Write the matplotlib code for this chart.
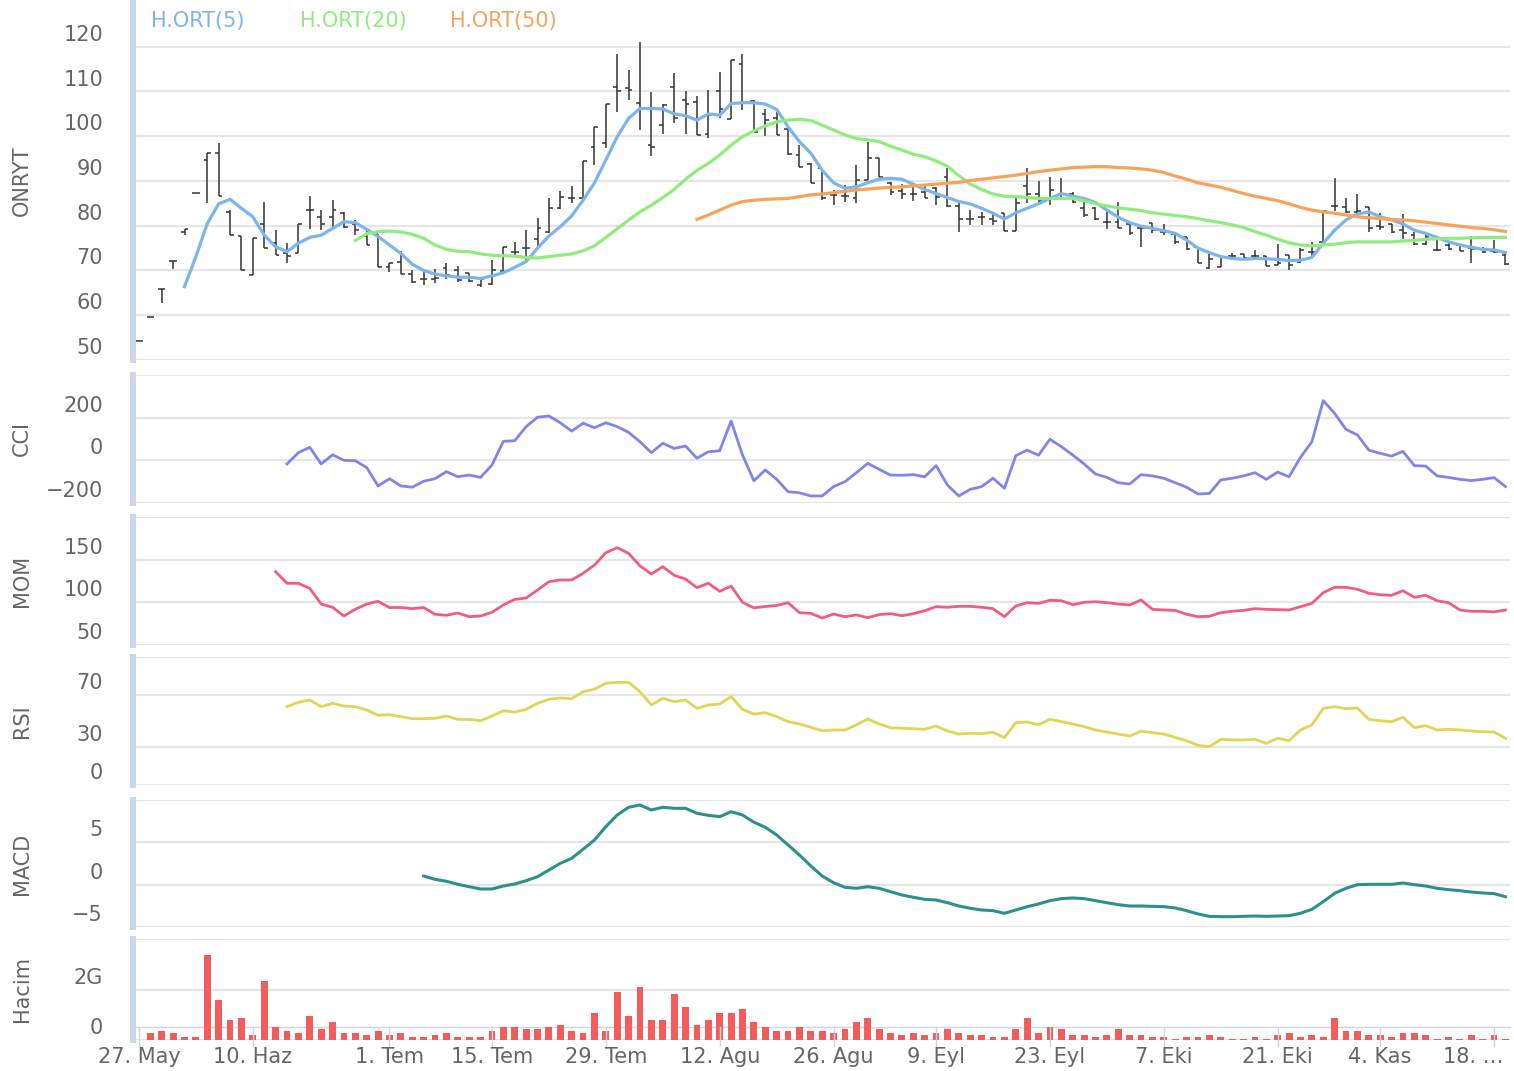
import numpy as np
import matplotlib.pyplot as plt
from matplotlib import transforms

# ---- data (trading-day index 0..120) ----
opens = [54.3, 59.7, 65.9, 72.2, 78.5, 87.4, 94.7, 96.3, 83.1, 77.6,
         69.0, 80.5, 76.1, 74.0, 74.0, 83.5, 82.0, 82.0, 82.9, 80.5,
         77.6, 78.2, 70.7, 72.0, 69.2, 68.0, 68.2, 70.5, 70.1, 69.5,
         66.8, 67.0, 69.9, 74.2, 75.0, 77.0, 78.7, 84.0, 86.1, 86.1,
         97.7, 98.6, 111.1, 110.7, 107.5, 98.0, 102.6, 111.1, 108.0, 107.7,
         100.6, 110.0, 103.8, 116.1, 107.9, 105.0, 104.0, 101.7, 95.8, 93.9,
         92.8, 86.9, 86.7, 86.1, 90.2, 95.1, 89.5, 87.8, 87.0, 87.5,
         88.4, 91.0, 84.5, 81.6, 82.0, 81.6, 82.9, 78.8, 88.9, 87.2,
         86.2, 87.2, 87.2, 83.9, 84.0, 80.9, 80.9, 80.5, 79.6, 80.7,
         78.6, 78.2, 77.4, 75.3, 70.5, 70.7, 73.2, 73.7, 73.2, 73.2,
         71.2, 73.5, 72.0, 74.2, 76.3, 84.4, 84.3, 83.1, 84.3, 80.0,
         80.5, 79.0, 78.0, 76.0, 74.5, 75.8, 75.7, 75.0, 74.7, 74.3,
         73.5]
highs = [54.3, 59.7, 65.9, 72.2, 79.3, 87.4, 96.3, 98.6, 83.5, 77.6,
         77.2, 85.2, 79.0, 76.2, 80.3, 86.6, 83.5, 85.8, 83.1, 81.3,
         79.2, 78.2, 71.6, 74.4, 70.2, 70.0, 70.3, 71.7, 70.9, 69.5,
         68.3, 72.3, 75.3, 76.4, 79.0, 81.7, 86.1, 87.8, 88.9, 94.5,
         102.1, 107.2, 118.4, 114.8, 121.0, 109.8, 107.2, 114.2, 110.0, 109.0,
         110.3, 114.3, 117.0, 118.4, 108.1, 106.2, 105.5, 101.8, 98.0, 94.1,
         92.8, 88.0, 89.0, 93.6, 98.8, 95.1, 89.8, 89.3, 89.3, 88.9,
         88.7, 93.0, 85.4, 83.5, 83.1, 82.8, 82.9, 86.5, 92.8, 90.1,
         91.0, 90.6, 87.5, 85.4, 84.3, 83.1, 85.2, 80.9, 79.8, 80.7,
         80.4, 78.2, 77.4, 75.3, 74.2, 73.1, 74.0, 73.7, 74.6, 73.2,
         75.9, 73.5, 75.0, 76.4, 83.4, 90.6, 86.1, 87.0, 84.3, 82.9,
         80.5, 82.6, 78.7, 78.5, 76.8, 76.4, 75.7, 77.6, 75.3, 76.8,
         73.8]
lows = [54.3, 59.7, 62.7, 70.3, 78.0, 87.4, 85.0, 86.6, 77.9, 70.1,
        69.0, 75.0, 73.5, 71.6, 74.0, 79.2, 79.0, 79.8, 79.4, 77.9,
        75.7, 70.8, 69.7, 69.2, 67.2, 66.8, 67.1, 68.0, 67.5, 67.5,
        66.3, 66.8, 69.7, 73.1, 72.3, 74.9, 78.3, 83.7, 85.0, 86.1,
        93.6, 97.3, 105.5, 108.1, 101.5, 95.6, 100.6, 102.9, 100.6, 100.3,
        99.5, 104.0, 103.8, 105.9, 101.0, 100.0, 100.2, 95.8, 93.2, 89.6,
        85.7, 84.6, 85.4, 85.0, 90.2, 91.0, 86.9, 85.9, 85.6, 86.1,
        84.6, 84.3, 78.7, 80.2, 80.2, 80.2, 78.8, 78.8, 85.0, 85.2,
        84.6, 86.1, 85.0, 81.9, 81.3, 79.2, 79.4, 78.0, 75.2, 78.4,
        78.0, 76.0, 74.6, 71.6, 70.3, 70.7, 72.3, 72.4, 72.4, 70.9,
        71.2, 70.0, 71.7, 72.9, 76.0, 83.2, 82.8, 82.8, 78.7, 79.0,
        78.4, 77.0, 75.7, 75.7, 74.4, 74.6, 74.4, 71.6, 74.0, 74.0,
        71.2]
closes = [54.3, 59.7, 65.9, 72.2, 79.3, 87.4, 96.3, 86.6, 77.9, 70.1,
          77.2, 75.0, 73.5, 73.2, 80.3, 83.5, 80.5, 83.5, 79.8, 79.0,
          75.7, 70.8, 71.6, 69.2, 67.5, 68.2, 68.4, 69.0, 67.8, 67.6,
          68.2, 70.0, 75.3, 74.2, 75.0, 79.4, 83.9, 86.5, 86.1, 94.5,
          102.1, 107.2, 110.0, 110.3, 106.0, 97.5, 107.0, 104.0, 107.2, 100.3,
          104.7, 106.1, 117.0, 107.5, 101.0, 103.6, 100.2, 96.0, 93.2, 89.6,
          86.1, 86.9, 86.7, 90.2, 95.1, 91.0, 87.6, 87.2, 87.0, 86.3,
          86.5, 84.4, 81.6, 81.6, 82.0, 81.0, 78.8, 85.0, 87.2, 85.6,
          88.0, 87.2, 85.2, 82.4, 81.6, 80.9, 79.4, 78.3, 79.4, 79.0,
          78.6, 76.3, 74.9, 71.7, 72.5, 73.1, 73.2, 72.8, 73.2, 70.9,
          71.6, 71.3, 74.5, 74.2, 83.3, 84.4, 83.0, 83.4, 79.4, 79.8,
          78.7, 78.4, 75.9, 77.5, 74.6, 74.9, 74.4, 74.9, 74.2, 74.2,
          71.4]

ma5_start = 4
ma5 = [66.4, 73.1, 80.5, 84.9, 85.9, 83.9, 82.0, 77.9, 75.3, 74.2,
       76.1, 77.4, 77.9, 79.4, 80.9, 80.7, 79.2, 77.6, 75.7, 73.8,
       71.4, 70.0, 69.2, 68.8, 68.5, 68.5, 68.2, 68.8, 69.5, 70.7,
       72.0, 75.0, 77.7, 79.8, 82.2, 85.7, 89.6, 94.7, 99.9, 104.0,
       106.2, 106.2, 106.1, 105.0, 104.6, 103.6, 105.0, 104.7, 107.3, 107.5,
       107.5, 107.2, 106.0, 102.1, 98.8, 96.2, 92.4, 89.6, 88.4, 88.7,
       89.6, 90.4, 90.6, 90.4, 89.3, 88.1, 87.2, 86.3, 85.4, 84.9,
       83.9, 82.8, 81.5, 82.9, 83.9, 84.9, 86.1, 87.2, 86.6, 86.1,
       85.2, 83.5, 81.9, 80.7, 79.9, 79.4, 78.9, 78.3, 76.8, 75.0,
       74.0, 73.1, 72.7, 72.5, 72.7, 72.6, 72.5, 72.2, 72.3, 72.9,
       76.1, 79.0, 81.3, 82.6, 83.1, 82.0, 81.3, 80.4, 79.0, 78.3,
       77.4, 76.4, 75.7, 75.2, 74.7, 74.6, 74.0]
ma20_start = 19
ma20 = [76.7, 78.2, 78.7, 78.8, 78.6, 78.1, 77.2, 75.7, 74.7, 74.3,
        74.2, 73.7, 73.4, 73.3, 73.2, 72.9, 72.8, 73.1, 73.4, 73.7,
        74.4, 75.5, 77.4, 79.3, 81.3, 83.1, 84.6, 86.3, 88.1, 90.4,
        92.4, 93.9, 95.8, 98.0, 99.9, 101.2, 102.3, 103.2, 103.6, 103.8,
        103.5, 102.5, 101.4, 100.3, 99.5, 99.2, 98.8, 97.8, 96.9, 96.0,
        95.4, 94.5, 93.3, 91.2, 89.3, 88.1, 87.1, 86.6, 86.5, 86.3,
        86.1, 86.1, 86.1, 86.1, 85.6, 84.9, 84.4, 84.0, 83.7, 83.4,
        82.9, 82.6, 82.3, 82.0, 81.6, 81.1, 80.7, 80.2, 79.6, 78.7,
        77.9, 77.0, 76.2, 75.7, 75.5, 75.7, 75.9, 76.2, 76.4, 76.4,
        76.4, 76.4, 76.6, 76.7, 77.0, 77.1, 77.2, 77.2, 77.3, 77.4,
        77.4, 77.4]
ma50_start = 49
ma50 = [81.4, 82.4, 83.5, 84.6, 85.4, 85.7, 85.9, 86.0, 86.1, 86.5,
        86.9, 87.1, 87.4, 87.7, 88.0, 88.2, 88.4, 88.6, 88.7, 88.9,
        89.1, 89.3, 89.5, 89.7, 90.1, 90.4, 90.7, 91.0, 91.3, 91.7,
        92.1, 92.4, 92.7, 93.0, 93.1, 93.2, 93.2, 93.0, 92.9, 92.7,
        92.4, 91.9, 91.1, 90.4, 89.6, 89.1, 88.6, 87.9, 87.2, 86.6,
        86.1, 85.6, 84.9, 84.1, 83.5, 83.1, 82.8, 82.4, 82.0, 81.8,
        81.6, 81.4, 81.3, 81.1, 80.8, 80.5, 80.2, 79.9, 79.6, 79.4,
        79.1, 78.7]

cci_start = 13
cci = [-17, 36, 61, -17, 26, 0, -2, -34, -120, -86,
       -120, -126, -98, -86, -53, -77, -69, -80, -22, 89,
       92, 158, 202, 208, 176, 137, 174, 153, 176, 158,
       131, 87, 36, 80, 56, 67, 10, 40, 45, 184,
       25, -96, -45, -89, -147, -152, -167, -167, -123, -100,
       -58, -14, -42, -69, -70, -67, -77, -25, -116, -167,
       -136, -123, -84, -131, 22, 48, 24, 99, 64, 25,
       -17, -64, -80, -105, -111, -67, -73, -84, -105, -126,
       -158, -155, -92, -84, -73, -58, -89, -55, -77, 14,
       87, 280, 220, 145, 119, 48, 33, 20, 42, -25,
       -27, -73, -80, -89, -95, -89, -81, -123]
mom_start = 12
mom = [135.9, 122.3, 122.3, 116.4, 98.0, 94.2, 84.0, 91.8, 98.0, 101.2,
       93.9, 93.9, 92.6, 93.9, 86.0, 84.8, 87.5, 83.2, 84.0, 88.3,
       96.9, 103.5, 105.1, 114.4, 124.2, 126.2, 126.2, 134.0, 143.7, 158.2,
       164.0, 157.4, 142.6, 133.2, 141.8, 131.7, 127.3, 117.2, 122.3, 112.9,
       119.1, 100.0, 93.5, 95.1, 96.3, 99.6, 87.9, 87.1, 81.6, 86.3,
       83.2, 85.2, 82.0, 85.6, 86.7, 84.3, 86.7, 90.2, 94.9, 94.2,
       95.3, 95.3, 94.2, 92.6, 83.2, 95.7, 99.6, 98.8, 102.4, 101.9,
       97.2, 100.0, 100.7, 99.6, 98.0, 96.9, 102.7, 91.8, 91.0, 90.6,
       86.0, 83.2, 83.6, 87.9, 89.5, 90.6, 92.6, 91.8, 91.4, 91.0,
       94.9, 98.8, 111.3, 117.6, 117.6, 115.3, 110.6, 108.9, 108.2, 113.6,
       105.9, 108.2, 101.9, 99.6, 91.0, 89.5, 89.5, 88.7, 91.0]
rsi_start = 13
rsi = [61.2, 64.6, 66.4, 61.2, 63.8, 61.7, 61.2, 58.6, 54.5, 54.9,
       53.4, 51.8, 51.8, 52.1, 53.9, 51.3, 51.3, 50.2, 53.9, 58.0,
       57.0, 59.1, 63.8, 67.0, 68.0, 67.4, 72.9, 74.8, 79.5, 80.2,
       80.2, 72.9, 62.5, 67.7, 65.1, 66.4, 59.9, 62.5, 63.3, 69.0,
       59.1, 55.4, 56.5, 53.4, 49.5, 47.7, 45.1, 42.4, 43.0, 43.0,
       46.9, 51.6, 47.7, 44.8, 44.3, 44.0, 43.5, 46.1, 42.2, 39.8,
       40.4, 40.1, 41.2, 37.0, 48.7, 49.2, 47.1, 51.3, 49.5, 47.7,
       45.6, 43.0, 41.4, 39.8, 38.3, 42.0, 40.9, 39.8, 37.2, 34.6,
       31.0, 29.9, 35.7, 35.2, 35.2, 35.7, 32.6, 36.5, 34.6, 43.0,
       46.9, 59.9, 61.2, 59.6, 60.2, 51.3, 50.2, 49.5, 52.9, 44.8,
       46.3, 43.0, 43.5, 43.0, 42.2, 41.6, 41.4, 36.5]
macd_start = 25
macd = [1.02, 0.63, 0.40, 0.04, -0.24, -0.51, -0.51, -0.16, 0.08, 0.47,
        0.94, 1.73, 2.52, 3.11, 4.18, 5.28, 6.85, 8.23, 9.14, 9.41,
        8.82, 9.14, 9.02, 9.02, 8.43, 8.19, 8.03, 8.62, 8.23, 7.38,
        6.78, 5.87, 4.69, 3.50, 2.21, 1.02, 0.23, -0.31, -0.43, -0.24,
        -0.43, -0.83, -1.22, -1.49, -1.73, -1.81, -2.13, -2.52, -2.79, -2.99,
        -3.07, -3.38, -2.99, -2.60, -2.28, -1.89, -1.65, -1.57, -1.65, -1.89,
        -2.13, -2.36, -2.52, -2.52, -2.56, -2.60, -2.75, -3.07, -3.46, -3.74,
        -3.78, -3.78, -3.74, -3.70, -3.74, -3.70, -3.66, -3.38, -2.91, -2.01,
        -1.02, -0.43, 0.00, 0.04, 0.04, 0.04, 0.20, 0.00, -0.16, -0.43,
        -0.59, -0.71, -0.87, -0.98, -1.06, -1.42]
# volume in billions (G)
volume = [0.0, 0.26, 0.34, 0.26, 0.10, 0.10, 3.35, 1.60, 0.81, 0.89,
          0.18, 2.32, 0.50, 0.34, 0.26, 0.97, 0.42, 0.73, 0.26, 0.26,
          0.18, 0.34, 0.18, 0.26, 0.10, 0.10, 0.18, 0.26, 0.10, 0.10,
          0.10, 0.34, 0.50, 0.50, 0.42, 0.42, 0.50, 0.58, 0.34, 0.26,
          1.05, 0.34, 1.92, 0.97, 2.08, 0.81, 0.81, 1.84, 1.29, 0.58,
          0.81, 1.05, 1.05, 1.21, 0.73, 0.50, 0.34, 0.34, 0.50, 0.34,
          0.34, 0.26, 0.42, 0.73, 0.89, 0.42, 0.26, 0.18, 0.26, 0.18,
          0.26, 0.42, 0.26, 0.18, 0.18, 0.10, 0.10, 0.42, 0.89, 0.26,
          0.50, 0.42, 0.18, 0.18, 0.10, 0.18, 0.42, 0.18, 0.18, 0.10,
          0.10, 0.02, 0.10, 0.10, 0.18, 0.10, 0.02, 0.02, 0.10, 0.02,
          0.18, 0.26, 0.10, 0.18, 0.10, 0.89, 0.34, 0.34, 0.18, 0.18,
          0.10, 0.26, 0.26, 0.18, 0.02, 0.10, 0.02, 0.18, 0.02, 0.18,
          0.05]

tick_idx = [0, 10, 22, 31, 41, 51, 61, 70, 80, 90, 100, 109, 119]
tick_labels = ['27. May', '10. Haz', '1. Tem', '15. Tem', '29. Tem', '12. Agu',
               '26. Agu', '9. Eyl', '23. Eyl', '7. Eki', '21. Eki', '4. Kas', '18. …']

# ---- layout ----
W, H = 1514, 1071
plt.rcParams['font.family'] = ['DejaVu Sans']
fig = plt.figure(figsize=(W / 100, H / 100), dpi=100)
TXT = '#666666'
GRID = '#e6e6e6'
AXBAR = '#ccd6eb'
FS = 15
XL, XR = 136, 1510


def make_panel(top, bottom, ylim, grid_vals, labels, title):
    ax = fig.add_axes([XL / W, 1 - bottom / H, (XR - XL) / W, (bottom - top) / H])
    ax.set_xlim(-0.26, 120.4)
    ax.set_ylim(*ylim)
    ax.set_yticks(grid_vals)
    ax.set_xticks([])
    ax.grid(axis='y', color=GRID, lw=1.5)
    ax.set_axisbelow(True)
    ax.tick_params(left=False, labelleft=False, bottom=False, labelbottom=False)
    for s in ['top', 'right', 'bottom']:
        ax.spines[s].set_visible(False)
    ax.spines['left'].set_color(AXBAR)
    ax.spines['left'].set_linewidth(4.3)
    ax.spines['left'].set_position(('outward', 2.2))
    for v, lab in labels:
        ax.annotate(lab, xy=(0, v), xycoords=('axes fraction', 'data'),
                    xytext=(-33, 12), textcoords='offset pixels',
                    ha='right', va='center', fontsize=FS, color=TXT)
    fig.text(22 / W, 1 - ((top + bottom) / 2) / H, title, rotation=90,
             ha='center', va='center', fontsize=FS, color=TXT)
    return ax


idx = np.arange(len(closes))

# price panel
ax1 = make_panel(2, 360, (50, 130), list(range(50, 121, 10)),
                 [(v, str(v)) for v in range(50, 121, 10)], 'ONRYT')
ax1.vlines(idx, lows, highs, color='#333333', lw=1.1, zorder=2)
ax1.hlines(opens, idx - 0.33, idx, color='#333333', lw=1.1, zorder=2)
ax1.hlines(closes, idx, idx + 0.33, color='#333333', lw=1.1, zorder=2)
ax1.plot(np.arange(ma5_start, ma5_start + len(ma5)), ma5, color='#7cb5ec', lw=2.3,
         zorder=3, solid_joinstyle='round')
ax1.plot(np.arange(ma20_start, ma20_start + len(ma20)), ma20, color='#90ed7d', lw=2.3,
         zorder=3, solid_joinstyle='round')
ax1.plot(np.arange(ma50_start, ma50_start + len(ma50)), ma50, color='#f7a35c', lw=2.3,
         zorder=3, solid_joinstyle='round')

for xpx, lab, col in [(151, 'H.ORT(5)', '#7cb5ec'), (300, 'H.ORT(20)', '#90ed7d'),
                      (450, 'H.ORT(50)', '#f7a35c')]:
    fig.text(xpx / W, 1 - 21 / H, lab, color=col, fontsize=FS, ha='left', va='center')

# CCI
ax2 = make_panel(375, 503, (-200, 400), [-200, 0, 200, 400],
                 [(-200, '−200'), (0, '0'), (200, '200')], 'CCI')
ax2.plot(np.arange(cci_start, cci_start + len(cci)), cci, color='#8085e9', lw=2,
         solid_joinstyle='round')

# MOM
ax3 = make_panel(517, 645, (50, 200), [50, 100, 150, 200],
                 [(50, '50'), (100, '100'), (150, '150')], 'MOM')
ax3.plot(np.arange(mom_start, mom_start + len(mom)), mom, color='#f15c80', lw=2,
         solid_joinstyle='round')

# RSI
ax4 = make_panel(657, 785, (0, 100), [0, 30, 70, 100],
                 [(0, '0'), (30, '30'), (70, '70')], 'RSI')
ax4.plot(np.arange(rsi_start, rsi_start + len(rsi)), rsi, color='#e4d354', lw=2,
         solid_joinstyle='round')

# MACD
ax5 = make_panel(800, 927, (-5, 10), [-5, 0, 5, 10],
                 [(-5, '−5'), (0, '0'), (5, '5')], 'MACD')
ax5.plot(np.arange(macd_start, macd_start + len(macd)), macd, color='#2b908f', lw=2.2,
         solid_joinstyle='round')

# Volume
ax6 = make_panel(939, 1040, (0, 4), [0, 2, 4], [(0, '0'), (2, '2G')], 'Hacim')
ax6.plot([0, 1], [0.129, 0.129], transform=ax6.transAxes, color=AXBAR, lw=1.0,
         clip_on=False, zorder=1)
ax6.bar(idx, volume, width=0.6, color='#f45b5b', zorder=2)
blend = transforms.blended_transform_factory(ax6.transData, ax6.transAxes)
for k, (t, lab) in enumerate(zip(tick_idx, tick_labels)):
    ax6.plot([t, t], [0.129, -0.06], transform=blend, color=AXBAR, lw=1.0, clip_on=False)
    if k == len(tick_idx) - 1:
        # last label is pushed left to stay inside the chart
        ax6.annotate(lab, xy=(t, -0.168), xycoords=blend, xytext=(9, 0),
                     textcoords='offset pixels', ha='right', va='center',
                     fontsize=FS, color=TXT)
    else:
        ax6.text(t, -0.168, lab, transform=blend, ha='center', va='center',
                 fontsize=FS, color=TXT)

fig.savefig('out.png', dpi=100)
